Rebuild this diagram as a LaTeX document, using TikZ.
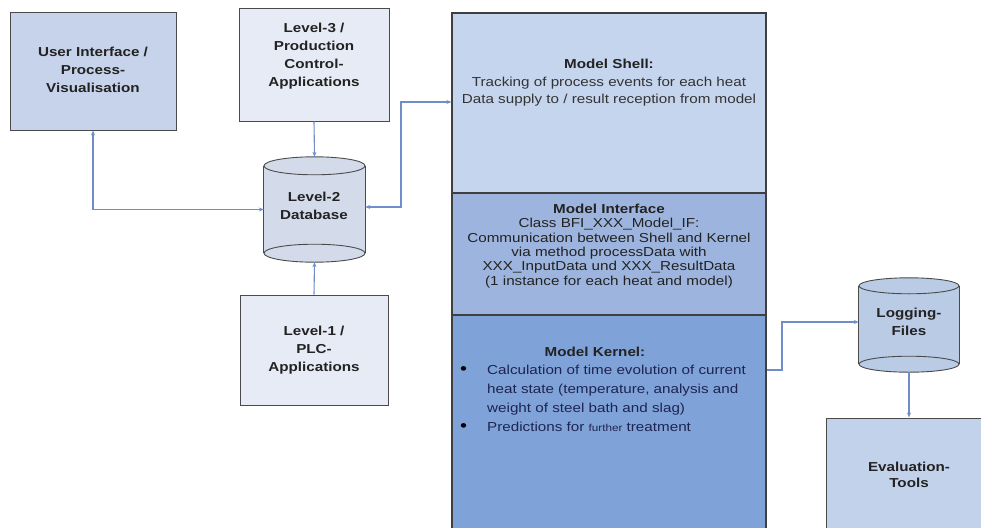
\documentclass[tikz,border=0pt]{standalone}
\usepackage{fontspec}
\setmainfont[FakeStretch=1.17]{Liberation Sans}
\usetikzlibrary{arrows.meta,calc}
\definecolor{boxline}{HTML}{4A4A4A}
\definecolor{conn}{HTML}{6F8DC8}
\definecolor{uifill}{HTML}{C6D3EA}
\definecolor{lvfill}{HTML}{E7EBF5}
\definecolor{dbfill}{HTML}{D3DBEB}
\definecolor{logfill}{HTML}{BACBE6}
\definecolor{evalfill}{HTML}{C3D2EB}
\definecolor{shellfill}{HTML}{C5D5EE}
\definecolor{ifacefill}{HTML}{9DB5DE}
\definecolor{kernfill}{HTML}{7FA3D8}
\definecolor{txt}{HTML}{222222}
\definecolor{navy}{HTML}{1E2452}
\tikzset{
  box/.style={draw=boxline, line width=1pt, inner sep=0pt, text=txt, align=center,
     font=\bfseries\fontsize{13}{18}\selectfont},
  modelbox/.style={draw=boxline!85!black, line width=1.1pt, inner sep=0pt},
  cylbody/.style={draw=boxline, line width=0.9pt},
  conline/.style={draw=conn, line width=1.1pt},
  tip/.style={-{Stealth[length=5pt,width=4pt]}},
  bitip/.style={{Stealth[length=5pt,width=4pt]}-{Stealth[length=5pt,width=4pt]}},
  lbl/.style={text=txt, align=center, inner sep=0pt, font=\bfseries\fontsize{13}{18}\selectfont},
}
\newcommand{\kbul}{\textcolor{black}{\fontsize{17}{19}\selectfont\textbullet}}
\begin{document}
\begin{tikzpicture}[x=1pt,y=-1pt]
\useasboundingbox (0,0) rectangle (981,527);
\begin{scope}
\clip (0,0) rectangle (981,527);
% left boxes
\node[box, fill=uifill, minimum width=166, minimum height=117] (ui) at (93,71.5) {};
\node[lbl] (uit) at (93,70) {User Interface /\\Process-\\Visualisation};
\node[box, fill=lvfill, minimum width=150, minimum height=112] (l3) at (314,65) {};
\node[lbl] (l3t) at (314,56) {Level-3 /\\Production\\Control-\\Applications};
\node[box, fill=lvfill, minimum width=148, minimum height=110] (l1) at (314,350) {};
\node[lbl] (l1t) at (314,350) {Level-1 /\\PLC-\\Applications};
% database cylinder
\node[inner sep=0pt, minimum width=101, minimum height=105] (db) at (314.5,209.5) {};
\fill[dbfill] ($(db.north west)+(0,9)$) rectangle ($(db.south east)+(0,-9)$);
\draw[cylbody] ($(db.north west)+(0,9)$) -- ($(db.south west)+(0,-9)$);
\draw[cylbody] ($(db.north east)+(0,9)$) -- ($(db.south east)+(0,-9)$);
\draw[cylbody, fill=dbfill] ($(db.south)+(0,-9)$) ellipse [x radius=50.5, y radius=9];
\draw[cylbody, fill=dbfill] ($(db.north)+(0,9)$) ellipse [x radius=50.5, y radius=9];
\node[lbl] (dbt) at (314,206) {Level-2\\Database};
% logging cylinder
\node[inner sep=0pt, minimum width=100, minimum height=94] (log) at (909,325) {};
\fill[logfill] ($(log.north west)+(0,8)$) rectangle ($(log.south east)+(0,-8)$);
\draw[cylbody] ($(log.north west)+(0,8)$) -- ($(log.south west)+(0,-8)$);
\draw[cylbody] ($(log.north east)+(0,8)$) -- ($(log.south east)+(0,-8)$);
\draw[cylbody, fill=logfill] ($(log.south)+(0,-8)$) ellipse [x radius=50, y radius=8];
\draw[cylbody, fill=logfill] ($(log.north)+(0,8)$) ellipse [x radius=50, y radius=8];
\node[lbl] (logt) at (909,322) {Logging-\\Files};
% evaluation
\node[box, fill=evalfill, minimum width=166, minimum height=140] (ev) at (909,488) {};
\node[lbl, font=\bfseries\fontsize{13}{16.5}\selectfont] (evt) at (909,475) {Evaluation-\\Tools};
% model column
\node[modelbox, fill=kernfill, minimum width=314, minimum height=222] (kern) at (609,426) {};
\node[modelbox, fill=ifacefill, minimum width=314, minimum height=122] (iface) at (609,254) {};
\node[modelbox, fill=shellfill, minimum width=314, minimum height=180] (shell) at (609,103) {};
\node[text=txt, align=center, inner sep=0pt, font=\fontsize{13}{17.5}\selectfont] (shellt) at (609,83)
  {\textbf{Model Shell:}\\\color{black!80}Tracking of process events for each heat\\\color{black!80}Data supply to / result reception from model};
\node[text=txt, align=center, inner sep=0pt, font=\fontsize{13}{14.4}\selectfont] (ifacet) at (609,246)
  {\textbf{Model Interface}\\Class BFI\_XXX\_Model\_IF:\\Communication between Shell and Kernel\\via method processData with\\XXX\_InputData und XXX\_ResultData\\(1 instance for each heat and model)};
\node[text=txt, inner sep=0pt, font=\bfseries\fontsize{13}{19}\selectfont] (kernt) at (595,352) {Model Kernel:};
\node[anchor=north west, inner sep=0pt, text=navy, font=\fontsize{13}{19}\selectfont] (klist) at (460,360.5)
  {\begin{tabular}{@{}p{27pt}@{}l@{}}
  \kbul & Calculation of time evolution of current\\
   & heat state (temperature, analysis and\\
   & weight of steel bath and slag)\\
  \kbul & Predictions for {\fontsize{10}{19}\selectfont further} treatment
  \end{tabular}};
% connectors
\draw[conline, bitip] (ui.south) |- (db.west);
\draw[conline, tip] (l3.south) -- (db.north);
\draw[conline, tip] (l1.north) -- (db.south);
\coordinate (dbr) at (401,207);
\draw[conline, bitip] (db.east |- dbr) -| (401,102) -- (shell.west |- 0,102);
\coordinate (kout) at (766,370);
\draw[conline, tip] (kern.east |- kout) -| (782,322) -- (log.west |- 0,322);
\draw[conline, tip] (log.south) -- (ev.north);
\end{scope}
\end{tikzpicture}
\end{document}
